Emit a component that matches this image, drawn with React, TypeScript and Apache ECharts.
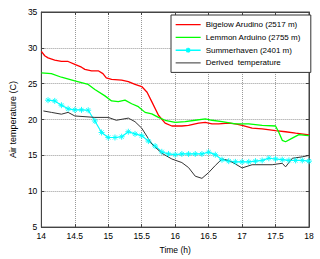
import React, { useEffect, useRef } from "react";
import * as echarts from "echarts";

const xTicks = [14, 14.5, 15, 15.5, 16, 16.5, 17, 17.5, 18];
const yTicks = [5, 10, 15, 20, 25, 30, 35];

const seriesNames = [
  "Bigelow Arudino (2517 m)",
  "Lemmon Arduino (2755 m)",
  "Summerhaven (2401 m)",
  "Derived  temperature",
];
const seriesColors = ["#ff0000", "#00ff00", "#00ffff", "#333333"];

const bigelow: [number, number][] = [
  [14.0, 29.5], [14.05, 28.9], [14.1, 28.6], [14.2, 28.3], [14.3, 28.1], [14.4, 28.1],
  [14.5, 27.7], [14.6, 27.3], [14.65, 27.0], [14.75, 26.8], [14.85, 26.8], [14.92, 26.4],
  [14.97, 25.8], [15.05, 25.6], [15.2, 25.5], [15.3, 25.3], [15.4, 24.9], [15.5, 24.6],
  [15.58, 23.8], [15.65, 22.5], [15.75, 20.6], [15.85, 19.5], [15.95, 19.1], [16.1, 19.1],
  [16.2, 19.2], [16.35, 19.5], [16.45, 19.6], [16.55, 19.4], [16.65, 19.4], [16.8, 19.5],
  [16.9, 19.4], [17.0, 19.2], [17.15, 18.8], [17.3, 18.7], [17.5, 18.45], [17.65, 18.3],
  [17.8, 18.1], [18.0, 17.85],
];

const lemmon: [number, number][] = [
  [14.0, 26.5], [14.15, 26.4], [14.3, 25.9], [14.5, 25.4], [14.7, 24.9], [14.8, 24.2],
  [14.95, 23.3], [15.05, 22.6], [15.15, 22.5], [15.25, 22.7], [15.35, 22.2], [15.45, 21.8],
  [15.55, 21.0], [15.65, 20.8], [15.75, 20.3], [15.85, 19.9], [16.0, 19.6], [16.15, 19.7],
  [16.3, 19.9], [16.45, 20.1], [16.55, 19.9], [16.7, 19.7], [16.9, 19.4], [17.1, 19.4],
  [17.3, 19.2], [17.5, 19.1], [17.55, 18.2], [17.6, 17.1], [17.65, 16.9], [17.75, 17.4],
  [17.85, 17.9], [17.95, 17.8], [18.0, 17.75],
];

const summerhaven: [number, number][] = [
  [14.1, 22.7], [14.2, 22.6], [14.3, 22.0], [14.4, 21.5], [14.5, 21.35], [14.6, 21.35],
  [14.7, 21.3], [14.8, 19.8], [14.9, 18.2], [15.0, 17.5], [15.1, 17.5], [15.2, 17.6],
  [15.3, 18.3], [15.4, 18.0], [15.5, 17.75], [15.6, 17.0], [15.7, 16.3], [15.8, 15.5],
  [15.9, 15.2], [16.0, 15.1], [16.1, 15.2], [16.2, 15.2], [16.3, 15.2], [16.4, 15.2],
  [16.5, 15.45], [16.6, 15.1], [16.7, 14.4], [16.8, 14.2], [16.9, 14.1], [17.0, 14.1],
  [17.1, 14.1], [17.2, 14.2], [17.3, 14.3], [17.4, 14.6], [17.5, 14.5], [17.6, 14.4],
  [17.7, 14.3], [17.8, 14.3], [17.9, 14.3], [18.0, 14.2],
];

const derived: [number, number][] = [
  [14.03, 21.2], [14.15, 21.0], [14.3, 20.75], [14.4, 21.0], [14.5, 20.5], [14.8, 20.3],
  [15.0, 20.3], [15.12, 19.9], [15.3, 20.2], [15.4, 19.7], [15.5, 18.8], [15.65, 16.6],
  [15.8, 15.3], [15.95, 14.5], [16.1, 14.0], [16.2, 13.3], [16.3, 12.1], [16.4, 11.8],
  [16.5, 12.6], [16.6, 13.6], [16.7, 14.5], [16.8, 14.3], [16.9, 13.8], [17.0, 13.25],
  [17.15, 13.7], [17.45, 13.7], [17.6, 13.9], [17.65, 13.4], [17.75, 14.6], [17.9, 14.8],
  [18.0, 15.0],
];

const asterisk = "path://M5,0L5,10M0,5L10,5M1.6,1.6L8.4,8.4M1.6,8.4L8.4,1.6";
const lineIcon = "path://M0,0L0,0.01M0,5L25,5M25,10L25,9.99";
const lineStarIcon =
  "path://M0,0L0,0.01M0,5L25,5M25,10L25,9.99M12.5,2.5L12.5,7.5M10,5L15,5M10.7,3.2L14.3,6.8M10.7,6.8L14.3,3.2";

export default function App() {
  const ref = useRef<HTMLDivElement>(null);
  useEffect(() => {
    if (!ref.current) return;
    const chart = echarts.init(ref.current, null, { renderer: "svg" });
    const font = "Liberation Sans, Arial, sans-serif";
    const gridLine = { show: true, lineStyle: { color: "#999", type: "dotted" as const, width: 1 } };
    const xBase = { type: "value" as const, min: 14, max: 18, interval: 0.5 };
    const yBase = { type: "value" as const, min: 5, max: 35, interval: 5 };
    const axisLine = { show: true, onZero: false, lineStyle: { color: "#444", width: 1 } };
    const axisTick = { show: true, inside: true, length: 3, lineStyle: { color: "#444" } };
    chart.setOption({
      animation: false,
      backgroundColor: "#fff",
      textStyle: { fontFamily: font },
      grid: { left: 32, right: 11, top: 12, bottom: 30, show: true, borderColor: "#444", borderWidth: 1, backgroundColor: "#fff" },
      legend: {
        orient: "vertical",
        left: 171,
        top: 15,
        data: seriesNames.map((name, i) => ({
          name,
          icon: i === 2 ? lineStarIcon : lineIcon,
          itemStyle: { color: "transparent", borderColor: seriesColors[i], borderWidth: i === 3 ? 1 : 1.3 },
        })),
        itemWidth: 25,
        itemHeight: 10,
        itemGap: 1.5,
        padding: [4, 10, 4, 4],
        backgroundColor: "#fff",
        borderColor: "#333",
        borderWidth: 1,
        textStyle: { fontSize: 8, color: "#000", fontFamily: font },
        z: 10,
      },
      xAxis: [
        {
          ...xBase,
          position: "bottom",
          name: "Time (h)",
          nameLocation: "middle",
          nameGap: 14,
          nameTextStyle: { fontSize: 8.5, color: "#000", fontFamily: font },
          axisLine,
          axisTick,
          axisLabel: {
            fontSize: 8.5, color: "#000", margin: 4, fontFamily: font,
            formatter: (v: number) => (xTicks.includes(v) ? String(v) : ""),
          },
          splitLine: gridLine,
        },
        {
          ...xBase,
          position: "top",
          axisLine,
          axisTick,
          axisLabel: { show: false },
          splitLine: { show: false },
        },
      ],
      yAxis: [
        {
          ...yBase,
          position: "left",
          name: "Air temperature (C)",
          nameLocation: "middle",
          nameGap: 19,
          nameTextStyle: { fontSize: 9, color: "#000", fontFamily: font },
          axisLine,
          axisTick,
          axisLabel: {
            fontSize: 8.5, color: "#000", margin: 4, fontFamily: font,
            formatter: (v: number) => (yTicks.includes(v) ? String(v) : ""),
          },
          splitLine: gridLine,
        },
        {
          ...yBase,
          position: "right",
          axisLine,
          axisTick,
          axisLabel: { show: false },
          splitLine: { show: false },
        },
      ],
      series: [
        {
          name: seriesNames[0],
          type: "line",
          data: bigelow,
          symbol: "none",
          color: seriesColors[0],
          lineStyle: { color: seriesColors[0], width: 1.3 },
        },
        {
          name: seriesNames[1],
          type: "line",
          data: lemmon,
          symbol: "none",
          color: seriesColors[1],
          lineStyle: { color: seriesColors[1], width: 1.3 },
        },
        {
          name: seriesNames[2],
          type: "line",
          data: summerhaven,
          symbol: asterisk,
          symbolSize: 6,
          color: seriesColors[2],
          itemStyle: { color: "transparent", borderColor: seriesColors[2], borderWidth: 0.9 },
          lineStyle: { color: seriesColors[2], width: 1.2 },
        },
        {
          name: seriesNames[3],
          type: "line",
          data: derived,
          symbol: "none",
          color: seriesColors[3],
          lineStyle: { color: seriesColors[3], width: 1 },
        },
      ],
    });
    return () => chart.dispose();
  }, []);
  return <div ref={ref} style={{ width: 320, height: 259, position: "absolute", left: 0, top: 0 }} />;
}
